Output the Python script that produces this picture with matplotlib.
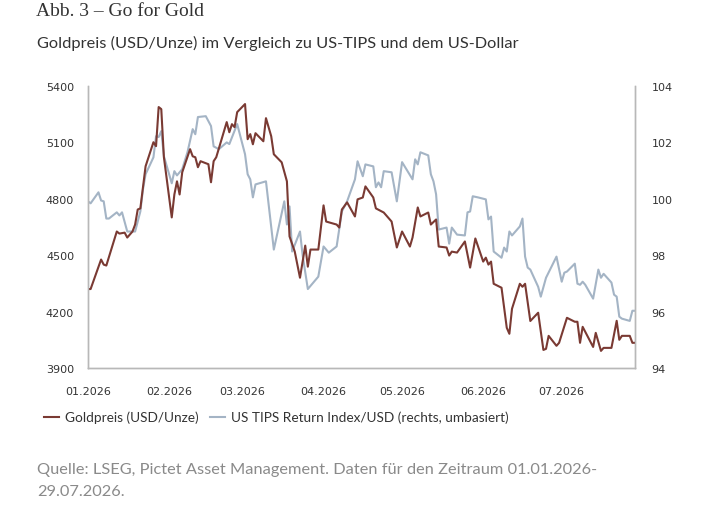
import matplotlib
matplotlib.use("Agg")
import matplotlib.pyplot as plt
import pandas as pd

# Goldpreis (USD/Unze), Stützpunkte
gold_dates = ["01-01", "01-02", "01-06", "01-07", "01-08", "01-12", "01-13", "01-15", "01-16", "01-18",
              "01-19", "01-20", "01-21", "01-22", "01-23", "01-26", "01-27", "01-28", "01-29", "01-30",
              "02-02", "02-03", "02-04", "02-05", "02-06", "02-09", "02-10", "02-11", "02-12", "02-13",
              "02-16", "02-17", "02-18", "02-19", "02-23", "02-24", "02-25", "02-26", "02-27", "03-02",
              "03-03", "03-04", "03-05", "03-06", "03-09", "03-10", "03-12", "03-13", "03-16", "03-18",
              "03-19", "03-21", "03-23", "03-25", "03-26", "03-27", "03-30", "04-01", "04-02", "04-06",
              "04-07", "04-08", "04-10", "04-13", "04-14", "04-16", "04-17", "04-20", "04-21", "04-24",
              "04-27", "04-29", "05-01", "05-04", "05-05", "05-07", "05-08", "05-11", "05-12", "05-14",
              "05-15", "05-18", "05-19", "05-20", "05-22", "05-25", "05-27", "05-29", "06-01", "06-02",
              "06-03", "06-04", "06-05", "06-08", "06-10", "06-11", "06-12", "06-15", "06-16", "06-17",
              "06-19", "06-22", "06-24", "06-25", "06-26", "06-29", "06-30", "07-03", "07-06", "07-07",
              "07-08", "07-09", "07-13", "07-14", "07-16", "07-17", "07-20", "07-22", "07-23", "07-24",
              "07-27", "07-28", "07-29"]
gold_values = [4320, 4320, 4477, 4450, 4445, 4626, 4615, 4620, 4594, 4626,
               4663, 4743, 4749, 4861, 4973, 5101, 5080, 5288, 5277, 5021,
               4701, 4823, 4893, 4823, 4941, 5064, 5026, 5021, 4968, 5000,
               4984, 4888, 5000, 5021, 5208, 5154, 5197, 5181, 5261, 5304,
               5117, 5144, 5090, 5149, 5106, 5229, 5133, 5037, 4994, 4893,
               4600, 4519, 4380, 4551, 4439, 4530, 4530, 4765, 4679, 4663,
               4647, 4743, 4781, 4706, 4797, 4807, 4866, 4807, 4749, 4727,
               4679, 4541, 4626, 4546, 4594, 4754, 4706, 4727, 4663, 4690,
               4546, 4541, 4498, 4519, 4514, 4573, 4434, 4589, 4466, 4487,
               4450, 4466, 4348, 4327, 4114, 4082, 4215, 4348, 4332, 4348,
               4150, 4194, 3996, 4002, 4071, 4018, 4034, 4167, 4146, 4146,
               4034, 4119, 4012, 4087, 3991, 4007, 4007, 4151, 4050, 4071,
               4071, 4034, 4034]

# US TIPS Return Index/USD (rechts, umbasiert)
tips_dates = ["01-01", "01-02", "01-05", "01-06", "01-07", "01-08", "01-09", "01-12", "01-13", "01-14",
              "01-16", "01-17", "01-19", "01-21", "01-22", "01-23", "01-26", "01-27", "01-28", "01-29",
              "01-30", "02-02", "02-03", "02-04", "02-06", "02-08", "02-10", "02-11", "02-12", "02-15",
              "02-17", "02-18", "02-20", "02-23", "02-24", "02-27", "03-02", "03-03", "03-04", "03-05",
              "03-06", "03-10", "03-13", "03-17", "03-18", "03-19", "03-20", "03-23", "03-24", "03-26",
              "03-30", "04-01", "04-03", "04-06", "04-08", "04-10", "04-13", "04-14", "04-16", "04-17",
              "04-20", "04-21", "04-22", "04-23", "04-24", "04-27", "04-29", "05-01", "05-05", "05-06",
              "05-07", "05-08", "05-11", "05-12", "05-13", "05-14", "05-15", "05-18", "05-19", "05-20",
              "05-22", "05-25", "05-26", "05-27", "05-28", "05-30", "06-02", "06-03", "06-04", "06-05",
              "06-08", "06-09", "06-10", "06-11", "06-12", "06-15", "06-16", "06-17", "06-18", "06-19",
              "06-22", "06-23", "06-25", "06-29", "07-01", "07-02", "07-03", "07-06", "07-07", "07-08",
              "07-09", "07-10", "07-13", "07-15", "07-16", "07-17", "07-20", "07-21", "07-22", "07-23",
              "07-24", "07-27", "07-28", "07-29"]
tips_values = [99.91, 99.84, 100.23, 99.94, 99.91, 99.30, 99.30, 99.52, 99.41, 99.52,
               98.84, 98.84, 98.84, 99.55, 100.33, 100.87, 101.47, 102.22, 102.19, 102.40,
               101.51, 100.55, 100.98, 100.83, 101.05, 101.65, 102.47, 102.29, 102.90, 102.93,
               102.58, 101.86, 101.76, 102.00, 101.94, 102.65, 101.58, 100.87, 100.69, 100.05,
               100.51, 100.62, 98.20, 99.91, 99.09, 99.73, 98.13, 98.84, 98.00, 96.80,
               97.24, 98.31, 98.09, 98.31, 99.55, 99.91, 100.69, 101.33, 100.80, 101.22,
               101.15, 100.41, 100.58, 100.41, 100.98, 100.94, 99.91, 101.30, 100.69, 101.40,
               101.22, 101.65, 101.54, 100.87, 100.62, 100.16, 98.91, 98.98, 98.41, 98.98,
               98.73, 98.70, 99.52, 99.55, 100.09, 100.05, 99.98, 99.27, 99.37, 98.13,
               97.91, 98.27, 98.13, 98.84, 98.70, 99.02, 99.30, 97.95, 97.56, 97.49,
               96.88, 96.53, 97.20, 97.95, 97.06, 97.38, 97.42, 97.70, 96.99, 96.95,
               97.06, 96.95, 96.46, 97.49, 97.20, 97.34, 97.03, 96.60, 96.53, 95.82,
               95.75, 95.67, 96.03, 96.03]

x_ticks = ["2026-01-01", "2026-02-01", "2026-03-01", "2026-04-01", "2026-05-01", "2026-06-01", "2026-07-01"]
x_labels = ["01.2026", "02.2026", "03.2026", "04.2026", "05.2026", "06.2026", "07.2026"]
left_ticks = [3900, 4200, 4500, 4800, 5100, 5400]
right_ticks = [94, 96, 98, 100, 102, 104]

gold_col = "#7a3a33"
tips_col = "#a4b4c5"
spine_col = "#b8b8b8"
text_col = "#333333"

gd = pd.to_datetime(["2026-" + d for d in gold_dates])
td = pd.to_datetime(["2026-" + d for d in tips_dates])

fig = plt.figure(figsize=(7.2, 5.06), dpi=100)
ax = fig.add_axes([88 / 720, 1 - 369 / 506, (635 - 88) / 720, (369 - 87) / 506])
ax2 = ax.twinx()

ax2.plot(td, tips_values, color=tips_col, lw=1.5, label="US TIPS Return Index/USD (rechts, umbasiert)")
ax.plot(gd, gold_values, color=gold_col, lw=1.5, label="Goldpreis (USD/Unze)")
ax.set_zorder(ax2.get_zorder() + 1)
ax.patch.set_visible(False)

ax.set_xlim(pd.Timestamp("2026-01-01"), pd.Timestamp("2026-07-29"))
ax.set_ylim(3900, 5400)
ax2.set_ylim(94, 104)
ax.set_yticks(left_ticks)
ax2.set_yticks(right_ticks)
ax.set_xticks(pd.to_datetime(x_ticks))
ax.set_xticklabels(x_labels)

for a in (ax, ax2):
    a.spines["top"].set_visible(False)
    for s in ("left", "right", "bottom"):
        a.spines[s].set_color(spine_col)
        a.spines[s].set_linewidth(1.0)
ax.tick_params(axis="y", length=0, pad=10, labelsize=8, labelcolor=text_col)
ax2.tick_params(axis="y", length=0, pad=12, labelsize=8, labelcolor=text_col)
ax.tick_params(axis="x", length=0, pad=13, labelsize=8, labelcolor=text_col)

fig.text(36 / 720, 1 - 16 / 506, "Abb. 3 \u2013 Go for Gold", family="Liberation Serif",
         fontsize=14, color=text_col, va="baseline")
fig.text(37 / 720, 1 - 48 / 506, "Goldpreis (USD/Unze) im Vergleich zu US-TIPS und dem US-Dollar",
         family="Lato", fontsize=11.8, color=text_col, va="baseline")

h1, l1 = ax.get_legend_handles_labels()
h2, l2 = ax2.get_legend_handles_labels()
leg = fig.legend(h1 + h2, l1 + l2, loc="center left", bbox_to_anchor=(44 / 720, 1 - 418 / 506),
                 ncol=2, frameon=False, borderpad=0, borderaxespad=0, handlelength=1.1,
                 handletextpad=0.45, columnspacing=0.8, prop={"family": "Lato", "size": 9.8})
for t in leg.get_texts():
    t.set_color(text_col)

fig.text(37 / 720, 1 - 470 / 506, "Quelle: LSEG, Pictet Asset Management. Daten f\u00fcr den Zeitraum 01.01.2026-",
         family="Lato", fontsize=11.8, color="#8a8a8a", va="center")
fig.text(37 / 720, 1 - 492 / 506, "29.07.2026.", family="Lato", fontsize=11.8, color="#8a8a8a", va="center")

fig.savefig("out.png", dpi=100)
